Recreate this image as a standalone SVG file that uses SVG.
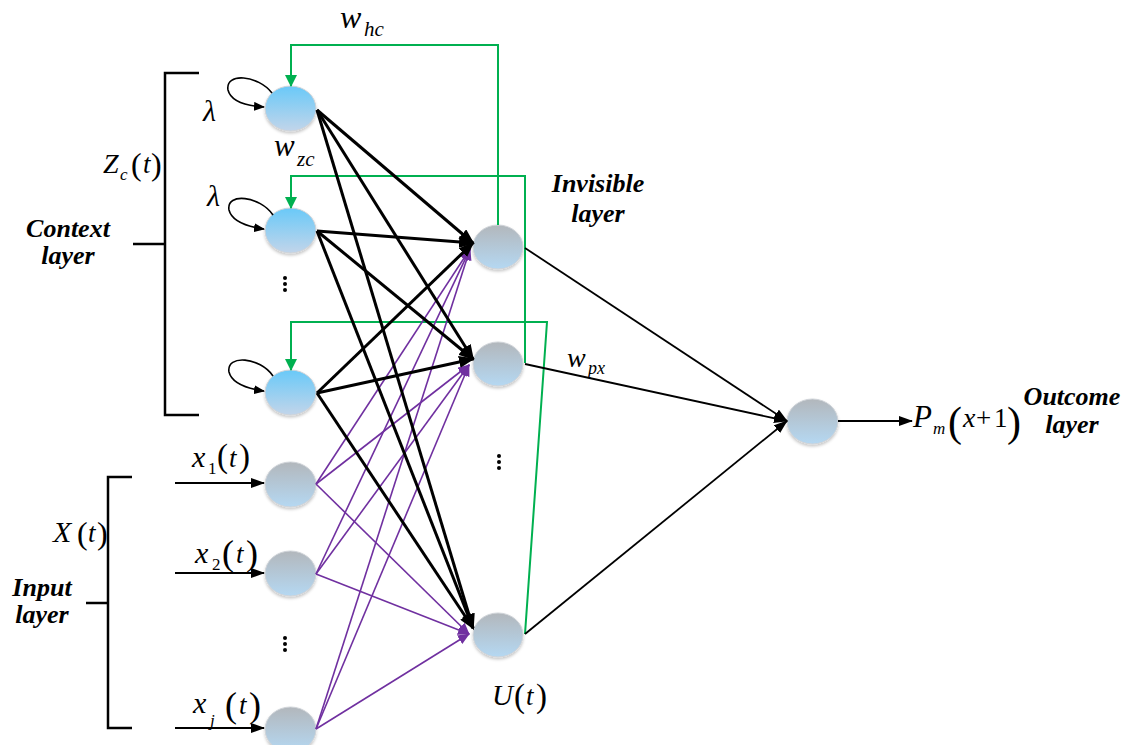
<svg xmlns="http://www.w3.org/2000/svg" width="1129" height="745" viewBox="0 0 1129 745">
<style>
text{font-family:"Liberation Serif","Times New Roman",serif;fill:#000}
.it{font-style:italic}
.lbl{font-style:italic;font-weight:bold;font-size:26px;text-anchor:middle}
.ctx{fill:url(#gCtx);stroke:#cfd3d8;stroke-width:1;filter:url(#sh)}
.nd{fill:url(#gGray);stroke:#cfd3d8;stroke-width:1;filter:url(#sh)}
.blk{stroke:#000;stroke-width:3;fill:none;marker-end:url(#aBlk)}
.pur{stroke:#7030a0;stroke-width:1.6;fill:none;marker-end:url(#aPur)}
.out{stroke:#000;stroke-width:1.8;fill:none;marker-end:url(#aThin)}
.grn{stroke:#00b050;stroke-width:2;fill:none;marker-end:url(#aGrn)}
.loop{stroke:#000;stroke-width:1.6;fill:none;marker-end:url(#aLoop)}
.brk{stroke:#000;stroke-width:2.5;fill:none}
</style>
<defs>
<linearGradient id="gCtx" x1="0" y1="0" x2="0" y2="1">
<stop offset="0" stop-color="#69c9f8"/>
<stop offset="1" stop-color="#c2d5ea"/>
</linearGradient>
<linearGradient id="gGray" x1="0" y1="0" x2="0" y2="1">
<stop offset="0" stop-color="#b2b7bc"/>
<stop offset="1" stop-color="#b5d8f2"/>
</linearGradient>
<filter id="sh" x="-30%" y="-30%" width="160%" height="170%">
<feDropShadow dx="0" dy="2" stdDeviation="1.5" flood-color="#000" flood-opacity="0.22"/>
</filter>
<marker id="aBlk" markerUnits="userSpaceOnUse" markerWidth="16" markerHeight="12" refX="14" refY="6" orient="auto">
<path d="M0,0 L16,6 L0,12 z" fill="#000"/>
</marker>
<marker id="aPur" markerUnits="userSpaceOnUse" markerWidth="12" markerHeight="10" refX="11" refY="5" orient="auto">
<path d="M0,0 L12,5 L0,10 z" fill="#7030a0"/>
</marker>
<marker id="aThin" markerUnits="userSpaceOnUse" markerWidth="14" markerHeight="10" refX="13" refY="5" orient="auto">
<path d="M0,0 L14,5 L0,10 z" fill="#000"/>
</marker>
<marker id="aGrn" markerUnits="userSpaceOnUse" markerWidth="12" markerHeight="12" refX="11" refY="6" orient="auto">
<path d="M0,0 L12,6 L0,12 z" fill="#00b050"/>
</marker>
<marker id="aLoop" markerUnits="userSpaceOnUse" markerWidth="11" markerHeight="9" refX="10" refY="4.5" orient="auto">
<path d="M0,0 L11,4.5 L0,9 z" fill="#000"/>
</marker>
</defs>
<rect x="0" y="0" width="1129" height="745" fill="#fff"/>

<g id="brackets">
<path class="brk" d="M199,73 H165 V415 H199 M133,244 H165"/>
<path class="brk" d="M132,477 H108 V728 H132 M86,603 H108"/>
</g>

<g id="node-c1"><ellipse class="ctx" cx="290.5" cy="108.5" rx="25.5" ry="22.5"/></g>
<g id="node-c2"><ellipse class="ctx" cx="290.5" cy="230.5" rx="25.5" ry="22.5"/></g>
<g id="node-c3"><ellipse class="ctx" cx="290.5" cy="392.5" rx="25.5" ry="22.5"/></g>
<g id="node-x1"><ellipse class="nd" cx="290.5" cy="484.5" rx="25.5" ry="22.5"/></g>
<g id="node-x2"><ellipse class="nd" cx="290.5" cy="573.5" rx="25.5" ry="22.5"/></g>
<g id="node-xj"><ellipse class="nd" cx="290.5" cy="729.5" rx="25.5" ry="22.5"/></g>
<g id="node-h1"><ellipse class="nd" cx="498" cy="247" rx="25" ry="22"/></g>
<g id="node-h2"><ellipse class="nd" cx="498" cy="364" rx="25" ry="22"/></g>
<g id="node-h3"><ellipse class="nd" cx="498" cy="635" rx="25" ry="22"/></g>
<g id="node-out"><ellipse class="nd" cx="812.5" cy="421.5" rx="25.5" ry="22.5"/></g>

<g id="dots" fill="#000">
<circle cx="285" cy="278" r="2"/><circle cx="285" cy="284" r="2"/><circle cx="285" cy="290" r="2"/>
<circle cx="285" cy="638" r="2"/><circle cx="285" cy="644" r="2"/><circle cx="285" cy="650" r="2"/>
<circle cx="499" cy="456" r="2"/><circle cx="499" cy="462" r="2"/><circle cx="499" cy="468" r="2"/>
</g>

<g id="connectors">
<path class="grn" d="M498,225 V45 H291 V86"/>
<path class="grn" d="M525,363 V176 H291 V208"/>
<path class="grn" d="M525,634 L547,322 H291 V370"/>

<path class="loop" d="M272,93 C258,75 225,72 228,90 C231,102 248,106 264,107"/>
<path class="loop" d="M273,215 C260,196 226,192 229,210 C232,222 250,227 264,229"/>
<path class="loop" d="M273,376 C260,357 226,354 229,372 C232,384 250,389 264,391"/>

<path class="pur" d="M316,484 L470,249"/>
<path class="pur" d="M316,484 L469,365"/>
<path class="pur" d="M316,484 L469,634"/>
<path class="pur" d="M316,574 L470,249"/>
<path class="pur" d="M316,574 L469,365"/>
<path class="pur" d="M316,574 L469,634"/>
<path class="pur" d="M316,729 L470,249"/>
<path class="pur" d="M316,729 L469,365"/>
<path class="pur" d="M316,729 L469,634"/>

<path class="blk" d="M317,110 L473,243"/>
<path class="blk" d="M317,110 L473,359"/>
<path class="blk" d="M317,110 L473,628"/>
<path class="blk" d="M317,231 L473,243"/>
<path class="blk" d="M317,231 L473,359"/>
<path class="blk" d="M317,231 L473,628"/>
<path class="blk" d="M317,393 L473,243"/>
<path class="blk" d="M317,393 L473,359"/>
<path class="blk" d="M317,393 L473,628"/>

<path class="out" d="M525,248 L787,421"/>
<path class="out" d="M525,364 L787,421"/>
<path class="out" d="M525,634 L787,421"/>
<path class="out" d="M838,421 H912"/>

<path class="out" d="M175,483 H264"/>
<path class="out" d="M175,573 H264"/>
<path class="out" d="M175,728 H264"/>
</g>

<g id="labels">
<text class="lbl" x="68" y="237">Context</text>
<text class="lbl" x="68" y="264">layer</text>
<text class="lbl" x="42" y="596">Input</text>
<text class="lbl" x="42" y="623">layer</text>
<text class="lbl" x="598" y="192">Invisible</text>
<text class="lbl" x="598" y="222">layer</text>
<text class="lbl" x="1072" y="405">Outcome</text>
<text class="lbl" x="1072" y="433">layer</text>

<text class="it" x="203" y="121" font-size="30">λ</text>
<text class="it" x="207" y="206" font-size="30">λ</text>

<text><tspan class="it" x="340" y="28" font-size="32">w</tspan><tspan class="it" x="364" y="36" font-size="21">hc</tspan></text>
<text><tspan class="it" x="274" y="156" font-size="31">w</tspan><tspan class="it" x="297" y="166" font-size="21">zc</tspan></text>
<text><tspan class="it" x="567" y="367" font-size="28">w</tspan><tspan class="it" x="588" y="374" font-size="18">px</tspan></text>

<text><tspan class="it" x="103" y="173" font-size="28">Z</tspan><tspan class="it" x="120" y="180" font-size="17">c</tspan><tspan x="131" y="175" font-size="32">(</tspan><tspan class="it" x="143" y="173" font-size="27">t</tspan><tspan x="151" y="175" font-size="32">)</tspan></text>
<text><tspan class="it" x="53" y="542" font-size="30">X</tspan><tspan x="77" y="544" font-size="32">(</tspan><tspan class="it" x="88" y="542" font-size="27">t</tspan><tspan x="97" y="544" font-size="32">)</tspan></text>
<text><tspan class="it" x="192" y="467" font-size="30">x</tspan><tspan x="208" y="474" font-size="17">1</tspan><tspan x="217" y="467" font-size="33">(</tspan><tspan class="it" x="229" y="467" font-size="27">t</tspan><tspan x="239" y="467" font-size="33">)</tspan></text>
<text><tspan class="it" x="195" y="563" font-size="30">x</tspan><tspan x="212" y="570" font-size="17">2</tspan><tspan x="222" y="565" font-size="36">(</tspan><tspan class="it" x="236" y="563" font-size="27">t</tspan><tspan x="246" y="565" font-size="36">)</tspan></text>
<text><tspan class="it" x="193" y="713" font-size="30">x</tspan><tspan class="it" x="210" y="726" font-size="17">j</tspan><tspan x="225" y="717" font-size="36">(</tspan><tspan class="it" x="239" y="714" font-size="27">t</tspan><tspan x="249" y="717" font-size="36">)</tspan></text>
<text><tspan class="it" x="492" y="705" font-size="29">U</tspan><tspan x="514" y="707" font-size="33">(</tspan><tspan class="it" x="526" y="705" font-size="27">t</tspan><tspan x="536" y="707" font-size="33">)</tspan></text>
<text><tspan class="it" x="913" y="427" font-size="31">P</tspan><tspan class="it" x="933" y="434" font-size="17">m</tspan><tspan x="948" y="436" font-size="42">(</tspan><tspan class="it" x="963" y="427" font-size="28">x</tspan><tspan x="976" y="427" font-size="27">+</tspan><tspan x="994" y="427" font-size="27">1</tspan><tspan x="1007" y="436" font-size="42">)</tspan></text>
</g>
</svg>
